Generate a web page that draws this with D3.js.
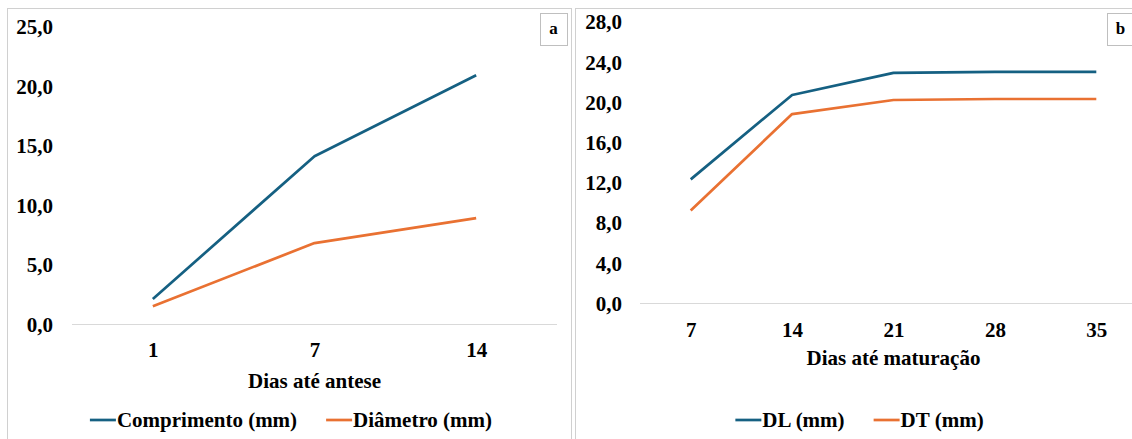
<!DOCTYPE html>
<html>
<head>
<meta charset="utf-8">
<script src="https://cdn.jsdelivr.net/npm/d3@7"></script>
<style>
  html, body { margin: 0; padding: 0; background: #fff; }
  svg { display: block; }
</style>
</head>
<body>
<svg id="chart"></svg>
<script>
'use strict';
// panel a - dias ate antese
var antDays = ["1", "7", "14"];
var comprimento = [2.1, 14.1, 20.9];
var diametro = [1.5, 6.8, 8.9];
var antTicks = [0, 5, 10, 15, 20, 25];

// panel b - dias ate maturacao
var matDays = ["7", "14", "21", "28", "35"];
var dlValues = [12.3, 20.7, 22.9, 23.0, 23.0];
var dtValues = [9.2, 18.8, 20.2, 20.3, 20.3];
var matTicks = [0, 4, 8, 12, 16, 20, 24, 28];

var blue = "#156082", orange = "#e97132";
var fontSize = 21;
var serif = "'Liberation Serif', 'Times New Roman', 'DejaVu Serif', serif";

var svg = d3.select("#chart").attr("width", 1132).attr("height", 439);
svg.append("rect").attr("width", 1132).attr("height", 439).attr("fill", "#fff");

var fmt = function(d) { return d3.format(".1f")(d).replace(".", ","); };

function styleText(sel, size) {
  return sel.attr("font-family", null)
    .style("font-family", serif)
    .style("font-weight", "bold")
    .style("font-size", size + "px")
    .attr("fill", "#000");
}

function drawPanel(opt) {
  var g = svg.append("g");

  g.append("rect")
    .attr("x", opt.box[0] + 0.5).attr("y", opt.box[1] + 0.5)
    .attr("width", opt.box[2]).attr("height", opt.box[3])
    .attr("fill", "none").attr("stroke", "#d0d0d0");

  var x = d3.scalePoint().domain(opt.cats).range([opt.left, opt.right]).padding(0.5);
  var y = d3.scaleLinear().domain([0, opt.ymax]).range([opt.bottom, opt.top]);

  // baseline
  g.append("line")
    .attr("x1", opt.left).attr("x2", opt.right)
    .attr("y1", Math.round(y(0)) + 0.5).attr("y2", Math.round(y(0)) + 0.5)
    .attr("stroke", "#d9d9d9").attr("stroke-width", 1);

  var ya = g.append("g")
    .attr("transform", "translate(" + opt.left + ",0)")
    .call(d3.axisLeft(y).tickValues(opt.ticks).tickSize(0).tickPadding(opt.left - opt.labelRight).tickFormat(fmt));
  ya.select(".domain").remove();
  ya.attr("font-family", null).attr("font-size", null);
  styleText(ya.selectAll("text"), fontSize).attr("dy", "0.35em");

  var xa = g.append("g")
    .attr("transform", "translate(0," + opt.xLabelY + ")")
    .call(d3.axisBottom(x).tickSize(0).tickPadding(0));
  xa.select(".domain").remove();
  xa.attr("font-family", null).attr("font-size", null);
  styleText(xa.selectAll("text"), fontSize).attr("dy", "0.35em");

  styleText(g.append("text"), fontSize)
    .attr("x", (opt.left + opt.right) / 2).attr("y", opt.titleY)
    .attr("dy", "0.35em").attr("text-anchor", "middle")
    .text(opt.title);

  var line = d3.line()
    .x(function(d, i) { return x(opt.cats[i]); })
    .y(function(d) { return y(d); });

  opt.series.forEach(function(s) {
    g.append("path")
      .datum(s.values)
      .attr("d", line)
      .attr("fill", "none")
      .attr("stroke", s.color)
      .attr("stroke-width", 2.7)
      .attr("stroke-linejoin", "round");
  });

  // panel letter
  g.append("rect")
    .attr("x", opt.tag[0] + 0.5).attr("y", opt.tag[1] + 0.5)
    .attr("width", opt.tag[2]).attr("height", opt.tag[3])
    .attr("fill", "#fff").attr("stroke", "#bfbfbf");
  styleText(g.append("text"), 17)
    .attr("x", opt.tag[0] + opt.tag[2] / 2).attr("y", opt.tag[1] + opt.tag[3] / 2)
    .attr("dy", "0.32em").attr("text-anchor", "middle")
    .text(opt.letter);

  // legend, centred on the panel
  var leg = g.append("g");
  var cx = 0;
  opt.series.forEach(function(s, i) {
    if (i > 0) cx += 29;
    leg.append("line")
      .attr("x1", cx).attr("x2", cx + 26)
      .attr("y1", 0).attr("y2", 0)
      .attr("stroke", s.color).attr("stroke-width", 2.7);
    var t = styleText(leg.append("text"), fontSize)
      .attr("x", cx + 27).attr("y", 0).attr("dy", "0.35em")
      .text(s.name);
    cx += 27 + t.node().getComputedTextLength();
  });
  leg.attr("transform", "translate(" + (opt.legendCenter - cx / 2) + "," + opt.legendY + ")");
}

drawPanel({
  box: [7, 8, 564, 440],
  left: 72, right: 557, top: 26.5, bottom: 324,
  labelRight: 53, xLabelY: 350, titleY: 381,
  legendY: 420, legendCenter: 291,
  cats: antDays, ymax: 25, ticks: antTicks,
  title: "Dias até antese", letter: "a",
  tag: [540, 13, 27, 32],
  series: [
    { name: "Comprimento (mm)", values: comprimento, color: blue },
    { name: "Diâmetro (mm)", values: diametro, color: orange }
  ]
});

drawPanel({
  box: [575, 8, 570, 440],
  left: 640, right: 1147, top: 21.6, bottom: 303,
  labelRight: 622, xLabelY: 330, titleY: 358,
  legendY: 420, legendCenter: 859.5,
  cats: matDays, ymax: 28, ticks: matTicks,
  title: "Dias até maturação", letter: "b",
  tag: [1107, 13, 27, 32],
  series: [
    { name: "DL (mm)", values: dlValues, color: blue },
    { name: "DT (mm)", values: dtValues, color: orange }
  ]
});
</script>
</body>
</html>
